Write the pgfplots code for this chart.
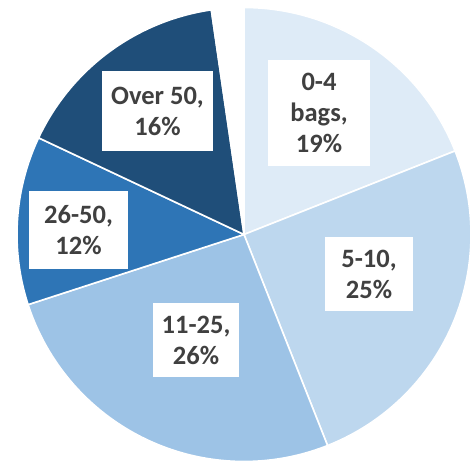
\documentclass[border=0pt]{standalone}
\usepackage{pgfplots}
\pgfplotsset{compat=1.18}
\usepackage{pgfplotstable}
\usepackage{fontspec}
\setmainfont{Carlito}
\definecolor{cA}{HTML}{DEEBF7}
\definecolor{cB}{HTML}{BDD7EE}
\definecolor{cC}{HTML}{9DC3E6}
\definecolor{cD}{HTML}{2E75B6}
\definecolor{cE}{HTML}{1F4E79}
\definecolor{cF}{HTML}{FFFFFF}
\definecolor{txt}{HTML}{404040}
% slice values in percent (clockwise from 12 o'clock); last row = unlabelled remainder
\pgfplotstableread{
label value col
0-4 19.0 cA
5-10 25.0 cB
11-25 26.0 cC
26-50 12.0 cD
Over50 15.7 cE
Rest 2.3 cF
}\pietable
\def\cx{244}
\def\cy{227.5}
\def\rr{227}
\begin{document}
\begin{tikzpicture}
\begin{axis}[width=470pt,height=462pt,scale only axis,hide axis,
  xmin=0,xmax=470,ymin=0,ymax=462,clip=true]
\def\startang{0}
\pgfplotstablegetrowsof{\pietable}
\pgfmathtruncatemacro\nrows{\pgfplotsretval-1}
\pgfplotsforeachungrouped \i in {0,...,\nrows}{%
  \pgfplotstablegetelem{\i}{value}\of\pietable
  \let\val\pgfplotsretval
  \pgfplotstablegetelem{\i}{col}\of\pietable
  \let\colr\pgfplotsretval
  \pgfmathsetmacro\endang{\startang+3.6*\val}%
  \edef\doslice{\noexpand\addplot[draw=white,line width=1.6pt,line join=round,fill=\colr,
     domain=\startang:\endang,samples=80]
     ({\cx+\rr*sin(x)},{\cy+\rr*cos(x)}) -- (axis cs:\cx,\cy) -- cycle;}%
  \doslice
  \global\let\startang\endang
}
\tikzset{lab/.style={fill=white,inner sep=0pt,align=center,text=txt,
  font=\fontsize{26.5}{31}\selectfont\bfseries}}
\node[lab,minimum width=102pt,minimum height=106pt] at (axis cs:319,349) {0-4\\bags,\\19\%};
\node[lab,minimum width=88pt,minimum height=74pt] at (axis cs:369,188) {5-10,\\25\%};
\node[lab,minimum width=86pt,minimum height=74pt] at (axis cs:196,122) {11-25,\\26\%};
\node[lab,minimum width=99pt,minimum height=78pt] at (axis cs:78.5,232) {26-50,\\12\%};
\node[lab,minimum width=111pt,minimum height=80pt] at (axis cs:157.5,351) {Over 50,\\16\%};
\end{axis}
\pgfresetboundingbox
\path (current axis.south west) rectangle (current axis.north east);
\end{tikzpicture}
\end{document}
